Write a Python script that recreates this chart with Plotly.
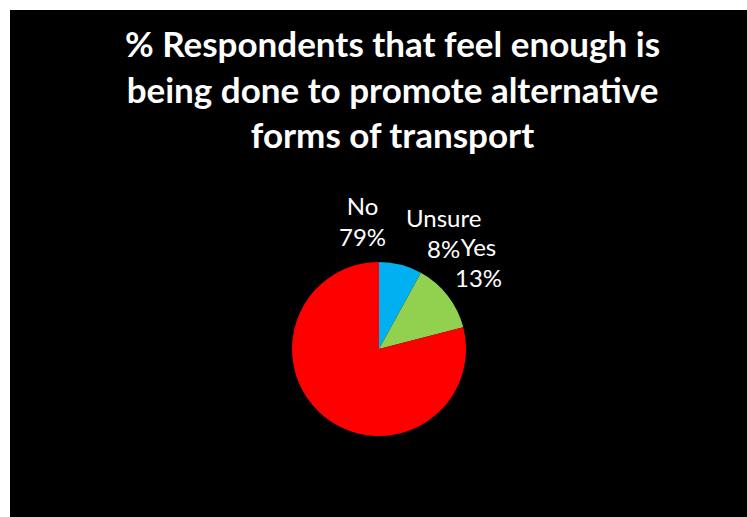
import plotly.graph_objects as go

categories = ["Unsure", "Yes", "No"]
values = [8, 13, 79]
colors = ["#00B0F0", "#92D050", "#FF0000"]
title_lines = ["% Respondents that feel enough is",
               "being done to promote alternative",
               "forms of transport"]

W, H = 747, 517
total = sum(values)
pct = {c: round(v / total * 100) for c, v in zip(categories, values)}

fig = go.Figure(go.Pie(
    labels=categories, values=values, sort=False, direction="clockwise",
    rotation=0, marker=dict(colors=colors, line=dict(width=0)),
    textinfo="none", hoverinfo="label+percent", showlegend=False,
    domain=dict(x=[292 / W, 466 / W], y=[(H - 436) / H, (H - 262) / H]),
))

# label positions (pixel centres in the reference)
label_pos = {"No": (362, 221), "Unsure": (443, 233), "Yes": (478, 262)}
anns = []
for c in categories:
    px, py = label_pos[c]
    anns.append(dict(x=px / W, y=1 - py / H, xref="paper", yref="paper",
                     text=f"{c}<br>{pct[c]}%", showarrow=False,
                     font=dict(family="Lato", size=24, color="white"),
                     align="center", xanchor="center", yanchor="middle"))
anns.append(dict(x=392 / W, y=1 - 88 / H, xref="paper", yref="paper",
                 text="<br>".join(f"<b>{t}</b>" for t in title_lines),
                 showarrow=False,
                 font=dict(family="Lato", size=35, color="white"),
                 align="center", xanchor="center", yanchor="middle"))

fig.update_layout(
    width=W, height=H, margin=dict(l=0, r=0, t=0, b=0),
    paper_bgcolor="white", plot_bgcolor="white",
    shapes=[dict(type="rect", xref="paper", yref="paper", x0=10 / W, x1=1,
                 y0=0, y1=1 - 10 / H, fillcolor="black", line=dict(width=0),
                 layer="below")],
    annotations=anns,
)
fig.write_html("out.html")
